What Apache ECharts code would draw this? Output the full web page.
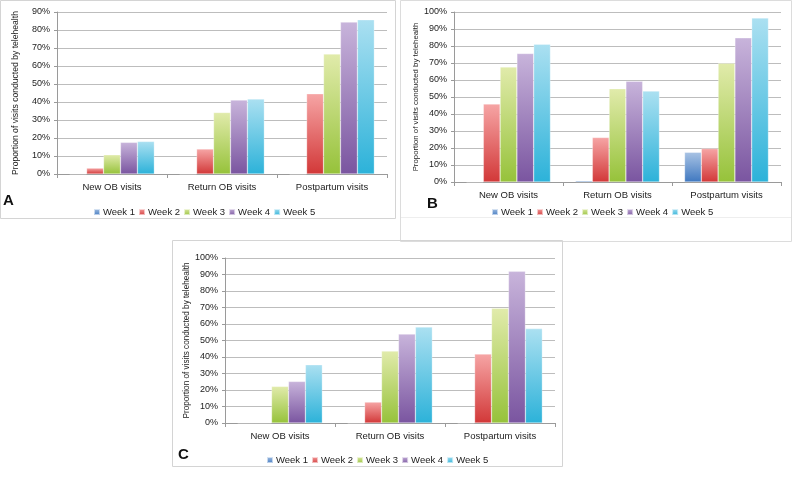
<!DOCTYPE html>
<html>
<head>
<meta charset="utf-8">
<script src="https://cdn.jsdelivr.net/npm/echarts@6/dist/echarts.min.js"></script>
<style>html,body{margin:0;padding:0;background:#fff;}#c{width:800px;height:483px;}</style>
</head>
<body>
<div id="c"></div>
<script>
const categories = ['New OB visits', 'Return OB visits', 'Postpartum visits'];
const weeks = ['Week 1', 'Week 2', 'Week 3', 'Week 4', 'Week 5'];
const yTitle = 'Proportion of visits conducted by telehealth';

// Panel A (values in %)
const panelA_week1 = [0, 0, 0];
const panelA_week2 = [3.3, 13.9, 44.6];
const panelA_week3 = [10.7, 34.2, 66.7];
const panelA_week4 = [17.6, 41.1, 84.4];
const panelA_week5 = [18.1, 41.7, 85.7];
// Panel B
const panelB_week1 = [0, 0.7, 17.5];
const panelB_week2 = [45.9, 26.2, 19.7];
const panelB_week3 = [67.7, 54.9, 69.9];
const panelB_week4 = [75.6, 59.3, 84.8];
const panelB_week5 = [81.1, 53.5, 96.5];
// Panel C
const panelC_week1 = [0, 0, 0];
const panelC_week2 = [0, 12.7, 41.8];
const panelC_week3 = [22.2, 43.6, 69.5];
const panelC_week4 = [25.2, 53.9, 91.9];
const panelC_week5 = [35.3, 58.2, 57.2];

const panelA = [panelA_week1, panelA_week2, panelA_week3, panelA_week4, panelA_week5];
const panelB = [panelB_week1, panelB_week2, panelB_week3, panelB_week4, panelB_week5];
const panelC = [panelC_week1, panelC_week2, panelC_week3, panelC_week4, panelC_week5];

const weekColors = [
  ['#A9C3E4', '#3F78C0'],
  ['#F6A5A5', '#D23838'],
  ['#E1EBAB', '#96C23A'],
  ['#C8B4DB', '#7A55A0'],
  ['#ABE0F1', '#2CB2D9']
];
function grad(c) {
  return {type: 'linear', x: 0, y: 0, x2: 0, y2: 1,
    colorStops: [{offset: 0, color: c[0]}, {offset: 1, color: c[1]}]};
}
const FONT = 'Liberation Sans';
const gridDefs = [
  {left: 57, top: 12, width: 330, height: 162, max: 90, nameGap: 37, nameSize: 8.6},
  {left: 454, top: 12, width: 327, height: 170, max: 100, nameGap: 31, nameSize: 7.8},
  {left: 225, top: 258, width: 330, height: 165, max: 100, nameGap: 32, nameSize: 8.2}
];
const panels = [panelA, panelB, panelC];

const grids = [], xAxes = [], yAxes = [], series = [];
gridDefs.forEach((g, i) => {
  grids.push({left: g.left, top: g.top, width: g.width, height: g.height, containLabel: false});
  xAxes.push({
    type: 'category', gridIndex: i, data: categories,
    axisLine: {lineStyle: {color: '#9a9a9a', width: 1}},
    axisTick: {show: true, length: 4, lineStyle: {color: '#9a9a9a'}},
    axisLabel: {fontFamily: FONT, fontSize: 9.5, color: '#222', margin: 8}
  });
  yAxes.push({
    type: 'value', gridIndex: i, min: 0, max: g.max, interval: 10,
    name: yTitle, nameLocation: 'middle', nameGap: g.nameGap,
    nameTextStyle: {fontFamily: FONT, fontSize: g.nameSize, color: '#222'},
    axisLine: {show: true, lineStyle: {color: '#9a9a9a'}},
    axisTick: {show: true, length: 3, lineStyle: {color: '#9a9a9a'}},
    splitLine: {lineStyle: {color: '#bdbdbd', width: 1}},
    axisLabel: {fontFamily: FONT, fontSize: 9, color: '#222', margin: 7, formatter: '{value}%'}
  });
  weeks.forEach((w, k) => {
    series.push({
      name: w, type: 'bar', xAxisIndex: i, yAxisIndex: i,
      data: panels[i][k],
      barGap: '0%', barCategoryGap: '23%',
      itemStyle: {color: grad(weekColors[k]), borderColor: 'rgba(255,255,255,0.6)', borderWidth: 0.5},
      emphasis: {disabled: true}
    });
  });
});

const legendBase = {
  data: weeks, icon: 'rect', itemWidth: 6, itemHeight: 6, itemGap: 3,
  textStyle: {fontFamily: FONT, fontSize: 9.5, color: '#222', padding: [0, 0, 0, -2]}
};
const legends = [
  Object.assign({}, legendBase, {left: 88, top: 202}),
  Object.assign({}, legendBase, {left: 486, top: 202}),
  Object.assign({}, legendBase, {left: 261, top: 450})
];

const chart = echarts.init(document.getElementById('c'), null, {renderer: 'canvas'});
chart.setOption({
  backgroundColor: '#fff',
  animation: false,
  grid: grids, xAxis: xAxes, yAxis: yAxes, series: series, legend: legends,
  graphic: [
    {type: 'rect', shape: {x: 0.5, y: 0.5, width: 395, height: 218}, style: {fill: 'none', stroke: '#d4d4d4', lineWidth: 1}, z: -1},
    {type: 'rect', shape: {x: 400.5, y: 0.5, width: 391, height: 241}, style: {fill: 'none', stroke: '#dcdcdc', lineWidth: 1}, z: -1},
    {type: 'line', shape: {x1: 401, y1: 217.5, x2: 791, y2: 217.5}, style: {stroke: '#eeeeee', lineWidth: 1}, z: -1},
    {type: 'rect', shape: {x: 172.5, y: 240.5, width: 390, height: 226}, style: {fill: 'none', stroke: '#d4d4d4', lineWidth: 1}, z: -1},
    {type: 'text', left: 3, top: 193, style: {text: 'A', font: 'bold 15px "Liberation Sans"', fill: '#111'}},
    {type: 'text', left: 427, top: 196, style: {text: 'B', font: 'bold 15px "Liberation Sans"', fill: '#111'}},
    {type: 'text', left: 178, top: 447, style: {text: 'C', font: 'bold 15px "Liberation Sans"', fill: '#111'}}
  ]
});
</script>
</body>
</html>
